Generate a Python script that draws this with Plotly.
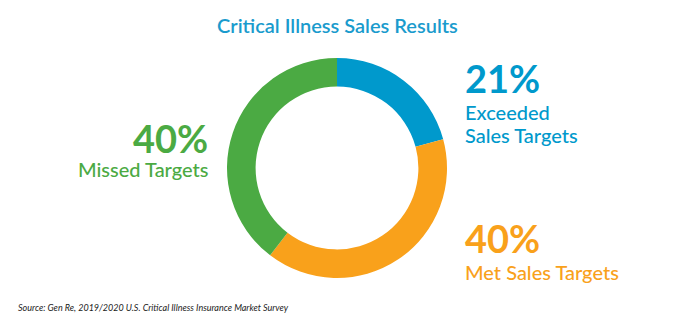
import plotly.graph_objects as go

W, H = 674, 330

labels = ["Exceeded Sales Targets", "Met Sales Targets", "Missed Targets"]
values = [21, 40, 40]
colors = ["#0099CC", "#F9A11B", "#4BAA43"]
pct_text = ["21%", "40%", "40%"]

title_text = "Critical Illness Sales Results"
source_text = "Source: Gen Re, 2019/2020 U.S. Critical Illness Insurance Market Survey"

cx, cy, r = 337, 168, 110

fig = go.Figure(go.Pie(
    labels=labels, values=values, sort=False, direction="clockwise", rotation=0,
    hole=0.74, marker=dict(colors=colors, line=dict(width=0)),
    textinfo="none", hoverinfo="skip", showlegend=False,
    domain=dict(x=[(cx - r) / W, (cx + r) / W], y=[(H - cy - r) / H, (H - cy + r) / H]),
))

def px(x):
    return x / W

def py(y):
    return 1 - y / H

ann = []
def add(text, x, y, size, color, xanchor, weight=400, family="Lato"):
    ann.append(dict(text=text, x=px(x), y=py(y), xref="paper", yref="paper",
                    xanchor=xanchor, yanchor="middle", showarrow=False,
                    font=dict(family=family, size=size, color=color, weight=weight)))

add(title_text, 337, 25, 20, "#1A9BCD", "center", 600)
# Missed
add(pct_text[2], 210, 138, 38, colors[2], "right", 700)
add("Missed Targets", 210, 169, 20, colors[2], "right", 500)
# Exceeded
add(pct_text[0], 463, 78, 38, colors[0], "left", 700)
add("Exceeded", 463, 112, 20, colors[0], "left", 500)
add("Sales Targets", 463, 135, 20, colors[0], "left", 500)
# Met
add(pct_text[1], 463, 238, 38, colors[1], "left", 700)
add("Met Sales Targets", 463, 272, 20, colors[1], "left", 500)
# Source
ann.append(dict(text="<i>" + source_text + "</i>", x=px(16), y=py(307), xref="paper", yref="paper",
                xanchor="left", yanchor="middle", showarrow=False,
                font=dict(family="Lato", size=9, color="#222222")))

fig.update_layout(width=W, height=H, margin=dict(l=0, r=0, t=0, b=0),
                  paper_bgcolor="white", plot_bgcolor="white", annotations=ann)

fig.write_html("out.html")
